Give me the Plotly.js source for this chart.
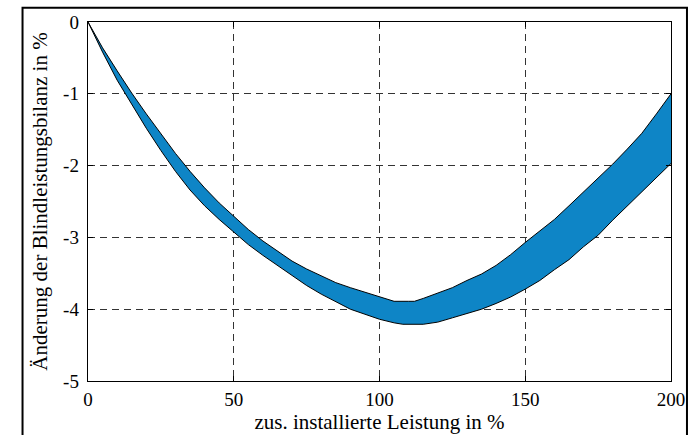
<!DOCTYPE html>
<html>
<head>
<meta charset="utf-8">
<script src="https://cdn.plot.ly/plotly-3.0.1.min.js"></script>
<style>
html,body{margin:0;padding:0;background:#fff;}
#chart{width:693px;height:435px;}
</style>
</head>
<body>
<div id="chart"></div>
<script>
// Data
const xUpper = [0,5,10,15,20,25,30,35,40,45,50,55,60,65,70,75,80,85,90,95,100,105,110,112,115,120,125,130,135,140,145,150,155,160,165,170,175,180,185,190,195,200];
const yUpper = [0,-0.36,-0.68,-0.99,-1.28,-1.56,-1.83,-2.08,-2.31,-2.52,-2.71,-2.89,-3.05,-3.19,-3.33,-3.44,-3.54,-3.63,-3.70,-3.76,-3.82,-3.89,-3.89,-3.89,-3.85,-3.77,-3.70,-3.60,-3.51,-3.39,-3.24,-3.07,-2.91,-2.75,-2.56,-2.37,-2.18,-1.98,-1.77,-1.55,-1.28,-1.00];
const xLower = [0,5,10,15,20,25,30,35,40,45,50,55,60,65,70,75,80,85,90,95,100,105,108,115,120,125,130,135,140,145,150,155,160,165,170,175,180,185,190,195,200];
const yLower = [0,-0.42,-0.81,-1.15,-1.48,-1.79,-2.08,-2.34,-2.56,-2.75,-2.93,-3.10,-3.25,-3.39,-3.53,-3.67,-3.79,-3.90,-4.00,-4.07,-4.14,-4.19,-4.21,-4.21,-4.18,-4.12,-4.06,-4.00,-3.92,-3.83,-3.72,-3.60,-3.45,-3.31,-3.13,-2.97,-2.76,-2.56,-2.36,-2.17,-1.97];
const xTicks = [0,50,100,150,200];
const yTicks = [0,-1,-2,-3,-4,-5];
const xTitle = 'zus. installierte Leistung in %';
const yTitle = 'Änderung der Blindleistungsbilanz in %';

const fillColor = '#0e85c6';
const fam = 'Liberation Serif';
const tickFont = {family: fam, size: 19, color: '#000'};
const titleFont = {family: fam, size: 21, color: '#000'};

const traces = [
  {x: xLower, y: yLower, mode: 'lines', line: {color: '#000', width: 1}, hoverinfo: 'skip', showlegend: false},
  {x: xUpper, y: yUpper, mode: 'lines', fill: 'tonexty', fillcolor: fillColor, line: {color: '#000', width: 1}, hoverinfo: 'skip', showlegend: false}
];

const axisCommon = {
  showline: true, linecolor: '#000', linewidth: 1.3, mirror: 'ticks',
  ticks: 'inside', ticklen: 5, tickwidth: 1, tickcolor: '#000',
  showgrid: true, gridcolor: '#333', gridwidth: 1, griddash: '7px,5px',
  zeroline: false
};

const layout = {
  width: 693, height: 435,
  margin: {l: 88, r: 22, t: 22, b: 54, pad: 0},
  paper_bgcolor: '#fff', plot_bgcolor: '#fff',
  font: {family: fam, size: 19, color: '#000'},
  showlegend: false,
  xaxis: Object.assign({}, axisCommon, {
    range: [0, 200], tickmode: 'array', tickvals: xTicks, ticktext: xTicks.map(String),
    tickfont: {family: fam, size: 19, color: '#000'},
    ticklabelstandoff: 1,
    title: {text: xTitle, font: titleFont, standoff: 3}
  }),
  yaxis: Object.assign({}, axisCommon, {
    range: [-5, 0], tickmode: 'array', tickvals: yTicks, ticktext: yTicks.map(String),
    tickfont: {family: fam, size: 19, color: '#000'},
    ticklabelstandoff: 4,
    title: {text: yTitle, font: titleFont, standoff: 9}
  }),
  shapes: [
    {type: 'rect', xref: 'paper', yref: 'paper', x0: -0.1123, x1: 1.0274, y0: -0.2, y1: 1.04,
     line: {color: '#000', width: 2}, fillcolor: 'rgba(0,0,0,0)', layer: 'above'}
  ]
};

Plotly.newPlot('chart', traces, layout, {staticPlot: true, displayModeBar: false});
</script>
</body>
</html>
